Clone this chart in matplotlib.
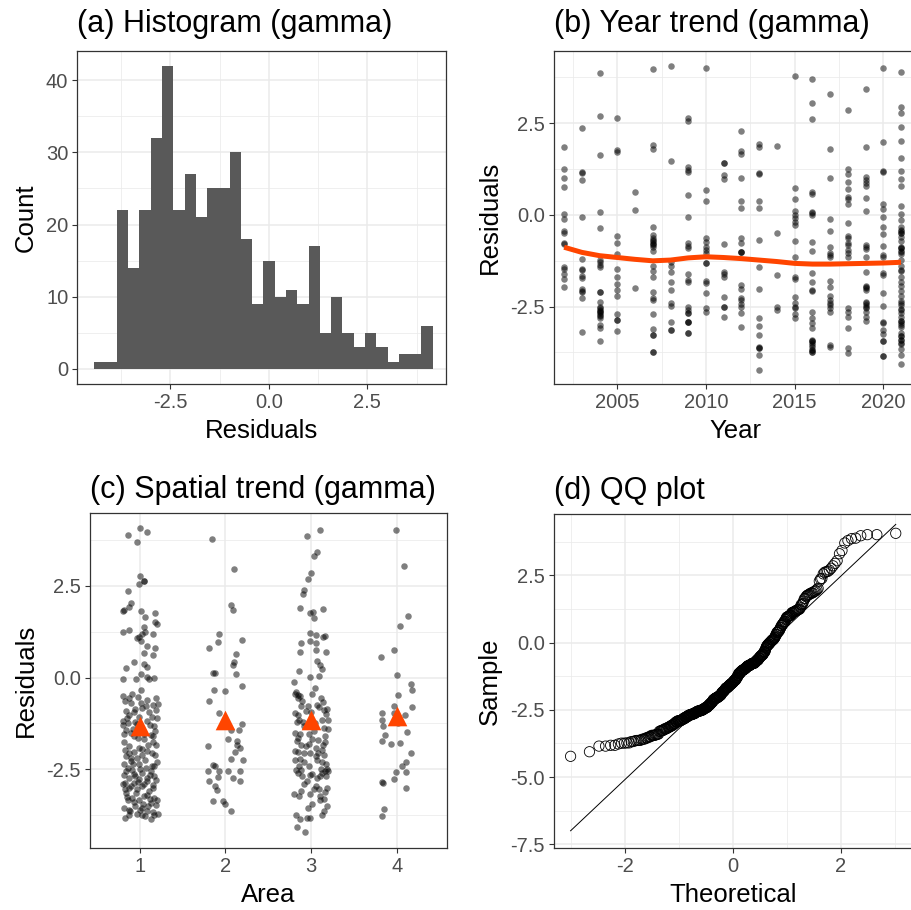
#Residual diagnostics: histogram, year trend, spatial trend, QQ plot
import matplotlib
matplotlib.use("Agg")
import matplotlib.pyplot as plt
import numpy as np
from statistics import NormalDist

plt.rcParams['font.family'] = ['Liberation Sans', 'DejaVu Sans']
plt.rcParams['axes.unicode_minus'] = False

#1. Histogram counts (30 bins)
hist_lo, hist_hi = -4.43, 4.16
hist_counts = [1, 1, 22, 14, 22, 32, 42, 22, 27, 21, 25, 25, 30, 18, 9,
               15, 10, 11, 9, 17, 5, 10, 5, 3, 5, 3, 1, 2, 2, 6]

#2. Residuals by year
years = list(range(2002, 2022))
r2002 = [1.85, 1.25, 1.0, 0.77, 0.04, -0.11, -0.45, -0.5, -0.77, -0.8, -1.41, -1.48, -1.61, -1.74, -1.96]
r2003 = [2.37, 1.16, 1.14, 0.95, -0.05, -1.21, -1.46, -1.5, -1.66, -1.73, -2.01, -2.08, -2.11, -2.27, -3.2]
r2004 = [3.87, 2.7, 1.63, 0.09, -0.36, -1.23, -1.29, -1.36, -1.43, -2.11, -2.11, -2.37, -2.5, -2.55,
         -2.58, -2.62, -2.65, -2.68, -2.72, -2.75, -2.82, -3.0, -3.09, -3.43]
r2005 = [2.65, 1.77, 1.71, -0.57, -0.77, -1.07, -1.47, -1.68, -1.88, -2.05, -2.2, -2.71, -2.86, -2.86, -3.17]
r2006 = [0.64, 0.14, -2.0]
r2007 = [3.98, 1.91, 1.79, -0.33, -0.55, -0.64, -0.68, -0.72, -0.77, -0.8, -0.83, -0.86, -0.97, -1.39,
         -1.52, -1.7, -2.11, -2.27, -2.32, -2.71, -3.12, -3.27, -3.27, -3.74, -3.74]
r2008 = [4.07, 1.46, -1.29, -1.39, -1.55, -1.84, -2.05, -2.41, -2.48, -2.91, -3.15, -3.15]
r2009 = [2.64, 2.56, 1.32, 1.23, 1.18, 0.55, -0.05, -0.77, -0.85, -0.91, -1.61, -1.77, -1.84, -2.52,
         -2.59, -2.68, -2.68, -2.91, -2.91, -2.91, -3.21, -3.21]
r2010 = [4.02, 0.68, 0.38, -0.64, -0.75, -0.86, -0.95, -1.03, -1.32, -1.32, -1.79, -1.86, -2.14, -2.55, -2.64]
r2011 = [1.41, 1.41, 1.09, 0.97, -0.79, -1.55, -1.61, -1.68, -2.23, -2.52, -2.52, -2.77]
r2012 = [2.29, 1.75, 1.65, 1.02, 0.38, 0.19, -0.64, -0.77, -1.0, -1.02, -1.02, -1.91, -2.02, -2.27,
         -2.32, -2.43, -2.5, -2.68, -3.05]
r2013 = [1.93, 1.85, 1.14, 1.12, 0.38, 0.2, -0.68, -1.41, -2.01, -2.82, -3.02, -3.27, -3.59, -3.64,
         -3.64, -3.82, -4.23]
r2014 = [1.89, -0.48, -1.64, -2.52, -2.59]
r2015 = [3.8, 0.73, 0.44, 0.11, 0.0, -0.09, -0.18, -0.27, -0.72, -1.14, -1.68, -1.74, -2.25, -2.41,
         -2.52, -2.55, -2.7, -2.82]
r2016 = [3.71, 3.05, 2.62, 0.63, 0.57, 0.09, 0.05, 0.0, -0.75, -0.99, -1.57, -1.82, -2.05, -2.06,
         -2.64, -2.82, -2.95, -3.09, -3.41, -3.45, -3.45, -3.5, -3.55, -3.6, -3.68, -3.68, -3.73, -3.73]
r2017 = [3.31, 1.8, 1.0, -0.1, -0.44, -0.86, -1.05, -1.09, -1.14, -1.8, -1.97, -2.2, -2.32, -2.41,
         -2.45, -2.55, -2.65, -3.55, -3.59]
r2018 = [2.86, 1.25, 1.12, 0.91, 0.7, 0.5, 0.43, 0.3, -0.21, -0.57, -0.64, -0.77, -0.82, -0.95,
         -1.03, -1.15, -2.55, -2.65, -2.77, -3.09, -3.64, -3.77]
r2019 = [3.43, 1.84, 1.03, 0.95, 0.86, 0.79, 0.45, 0.11, -0.82, -0.88, -0.94, -1.15, -1.55, -1.95,
         -1.97, -2.0, -2.05, -2.36, -2.41, -2.45, -2.5, -2.55, -2.65, -2.77, -2.88]
r2020 = [4.02, 1.98, 1.21, 1.18, 0.3, 0.15, -0.05, -0.34, -0.52, -0.85, -1.09, -1.14, -1.57, -1.64,
         -2.14, -2.47, -2.91, -2.95, -3.14, -3.25, -3.45, -3.45, -3.85, -3.85]
r2021 = [3.89, 2.95, 2.77, 2.39, 2.02, 1.54, 1.21, 0.97, 0.79, 0.25, 0.03, -0.14, -0.34, -0.41,
         -0.45, -0.48, -0.5, -0.59, -0.7, -0.86, -0.9, -0.91, -0.98, -1.0, -1.06, -1.23, -1.39, -1.5,
         -1.52, -1.68, -1.82, -1.94, -2.06, -2.21, -2.34, -2.4, -2.45, -2.57, -2.6, -2.68, -2.77, -2.88,
         -2.9, -2.95, -3.0, -3.05, -3.21, -3.3, -3.3, -3.41, -3.4, -3.5, -3.52, -3.65, -3.82, -4.06]
year_resid = [r2002, r2003, r2004, r2005, r2006, r2007, r2008, r2009, r2010, r2011,
              r2012, r2013, r2014, r2015, r2016, r2017, r2018, r2019, r2020, r2021]
# smoothed trend read per year
trend = [-0.88, -1.02, -1.11, -1.16, -1.21, -1.25, -1.23, -1.17, -1.14, -1.16,
         -1.19, -1.23, -1.27, -1.32, -1.34, -1.34, -1.33, -1.32, -1.31, -1.29]

#3. Residuals by area (jitter offset, residual)
area1 = [(0.0, 4.07), (0.09, 3.97), (-0.14, 3.88), (-0.03, 3.70), (0.0, 2.76), (0.05, 2.63), (0.05, 2.62),
         (-0.01, 2.55), (-0.14, 2.36), (-0.10, 2.02), (-0.13, 1.92), (-0.19, 1.81), (-0.18, 1.84), (0.02, 1.81),
         (0.18, 1.75), (0.06, 1.65), (0.20, 1.46), (0.18, 1.52), (0.05, 1.38), (-0.12, 1.29), (-0.19, 1.25),
         (0.06, 1.25), (0.03, 1.2), (0.15, 1.2), (-0.01, 1.11), (-0.03, 1.08), (0.01, 0.99), (0.09, 0.87),
         (0.18, 0.81), (0.05, 0.67), (0.15, 0.61), (-0.07, 0.43), (0.05, 0.37), (-0.16, 0.25), (0.09, 0.29),
         (0.02, 0.1), (0.09, 0.02), (0.17, -0.01), (0.11, -0.05), (-0.19, -0.05), (-0.04, -0.03),
         (0.02, -0.33), (-0.09, -0.45), (-0.19, -0.51), (-0.02, -0.54), (0.19, -0.57), (-0.17, -0.65),
         (-0.10, -0.69), (0.15, -0.74), (0.21, -0.72), (0.07, -0.78), (0.03, -0.83), (-0.16, -0.92),
         (-0.07, -0.95), (0.11, -0.95), (-0.12, -1.01), (-0.01, -1.07), (0.14, -1.07), (-0.19, -1.19),
         (0.09, -1.19), (-0.14, -1.25), (-0.03, -1.28), (0.17, -1.33), (-0.16, -1.42), (-0.10, -1.51),
         (0.05, -1.53), (-0.18, -1.55), (0.13, -1.58), (-0.07, -1.6), (0.05, -1.69), (0.15, -1.76),
         (0.19, -1.83), (-0.12, -1.87), (-0.01, -1.92), (-0.17, -1.98), (0.09, -2.01), (-0.07, -2.04),
         (0.14, -2.05), (0.03, -2.1), (-0.16, -2.15), (-0.03, -2.19), (-0.10, -2.28), (-0.18, -2.37),
         (-0.01, -2.35), (0.17, -2.42), (0.07, -2.46), (-0.14, -2.46), (-0.09, -2.51), (0.13, -2.55),
         (-0.18, -2.65), (0.03, -2.6), (-0.05, -2.69), (0.17, -2.69), (-0.13, -2.74), (-0.01, -2.78),
         (0.09, -2.83), (-0.17, -2.87), (-0.07, -2.89), (0.15, -2.92), (0.03, -2.95), (-0.12, -3.01),
         (-0.03, -3.05), (0.11, -3.1), (-0.16, -3.15), (0.05, -3.24), (-0.09, -3.28), (0.17, -3.28),
         (-0.01, -3.33), (-0.14, -3.35), (0.13, -3.42), (0.19, -3.49), (-0.05, -3.51), (0.03, -3.55),
         (-0.12, -3.6), (0.09, -3.65), (0.15, -3.67), (-0.03, -3.71), (0.21, -3.72), (-0.17, -3.83),
         (0.13, -3.85), (0.03, -3.74), (-0.12, -0.55), (0.08, -0.6), (-0.05, -0.85), (0.19, -0.88),
         (-0.15, -1.1), (0.12, -1.3), (-0.08, -1.4), (0.18, -1.45), (-0.02, -1.65), (-0.18, -1.75),
         (0.1, -1.85), (-0.1, -2.2), (0.06, -2.25), (0.2, -2.3), (-0.16, -2.55), (0.0, -2.5), (0.12, -2.65),
         (-0.07, -2.62), (0.19, -2.8), (-0.19, -2.9), (0.05, -2.9), (-0.1, -2.95), (0.16, -3.0),
         (-0.04, -3.15), (0.08, -3.2), (-0.15, -3.25), (0.2, -3.35), (-0.07, -3.4), (0.1, -3.5),
         (-0.18, -3.55), (0.0, -3.6), (0.17, -3.75), (-0.12, -3.75), (0.06, -3.78), (-0.08, -2.35),
         (0.14, -2.4), (-0.13, -2.05), (0.03, -1.95), (0.16, -1.6), (-0.06, -1.2), (0.01, -0.7),
         (-0.19, -1.3), (0.2, -1.1), (0.08, -2.75), (-0.02, -2.85), (0.12, -3.3), (-0.11, -3.65),
         (0.04, -3.45), (-0.17, -3.05), (0.18, -2.1)]
area2 = [(-0.16, 3.79), (0.10, 2.95), (0.07, 1.99), (0.09, 1.84), (-0.07, 1.2), (0.19, 1.02), (-0.09, 0.97),
         (-0.19, 0.81), (0.12, 0.65), (0.10, 0.42), (0.09, 0.35), (-0.14, 0.13), (-0.12, 0.13), (0.12, 0.1),
         (0.19, -0.22), (-0.13, -0.35), (-0.01, -0.37), (-0.19, -0.65), (-0.08, -0.96), (0.19, -1.26),
         (-0.01, -1.3), (0.06, -1.44), (0.16, -1.42), (0.03, -1.67), (0.14, -1.74), (0.14, -1.85),
         (-0.2, -1.87), (0.17, -1.92), (0.11, -2.04), (0.06, -2.21), (0.20, -2.25), (-0.15, -2.39),
         (-0.12, -2.42), (-0.2, -2.54), (-0.07, -2.54), (0.03, -2.54), (0.17, -2.54), (-0.09, -2.71),
         (0.09, -2.74), (-0.19, -2.81), (0.17, -2.81), (-0.12, -2.95), (-0.1, -3.08), (-0.14, -3.36),
         (-0.03, -3.36), (0.0, -3.44), (0.07, -3.63)]
area3 = [(-0.05, 3.87), (0.10, 4.01), (0.07, 3.42), (0.03, 3.31), (0.0, 2.85), (-0.04, 2.69), (-0.08, 2.38),
         (-0.1, 2.29), (-0.13, 1.9), (0.14, 1.88), (-0.02, 1.76), (0.02, 1.79), (0.03, 1.63), (-0.01, 1.22),
         (0.06, 1.15), (-0.12, 0.95), (-0.01, 0.99), (0.16, 1.13), (0.14, 1.1), (0.06, 0.95), (0.17, 0.7),
         (-0.13, 0.7), (0.05, 0.74), (0.07, 0.45), (0.10, 0.35), (0.12, 0.22), (-0.14, 0.19), (0.09, 0.04),
         (-0.02, 0.01), (0.04, -0.28), (-0.2, -0.12), (0.01, -0.45), (-0.19, -0.46), (-0.16, -0.49),
         (-0.13, -0.51), (0.14, -0.67), (-0.12, -0.78), (-0.04, -0.78), (0.07, -0.76), (0.18, -0.87),
         (0.15, -0.89), (-0.19, -0.96), (-0.16, -1.03), (-0.14, -1.15), (0.12, -1.15), (0.19, -1.17),
         (-0.09, -1.33), (0.15, -1.37), (-0.19, -1.51), (-0.13, -1.55), (-0.03, -1.55), (0.16, -1.6),
         (0.01, -1.67), (-0.17, -1.74), (-0.12, -1.83), (-0.06, -1.87), (0.06, -1.92), (0.12, -1.98),
         (-0.16, -2.04), (-0.08, -2.05), (-0.01, -2.07), (0.15, -2.1), (-0.13, -2.22), (0.07, -2.24),
         (-0.19, -2.26), (0.17, -2.35), (-0.03, -2.42), (0.11, -2.49), (0.18, -2.49), (-0.12, -2.51),
         (0.16, -2.55), (0.01, -2.62), (-0.18, -2.51), (-0.11, -2.69), (0.07, -2.74), (0.10, -2.69),
         (0.17, -2.69), (-0.05, -2.83), (0.03, -3.05), (0.09, -3.04), (0.16, -3.13), (-0.2, -3.19),
         (-0.14, -3.22), (-0.01, -3.19), (0.10, -3.24), (0.01, -3.44), (0.18, -3.51), (0.15, -3.65),
         (0.12, -3.74), (-0.18, -3.74), (-0.13, -3.85), (-0.05, -3.83), (-0.17, -4.07), (-0.07, -4.22),
         (-0.02, -3.83), (-0.18, -0.4), (-0.15, -0.55), (0.09, -0.8), (-0.06, -0.9), (0.17, -1.0),
         (-0.1, -1.2), (0.04, -1.25), (0.19, -1.4), (-0.16, -1.65), (0.08, -1.7), (-0.03, -1.8),
         (0.14, -1.85), (-0.19, -2.0), (0.05, -2.15), (-0.09, -2.3), (0.12, -2.3), (0.19, -2.55),
         (-0.15, -2.6), (-0.02, -2.65), (0.13, -2.6), (-0.08, -2.9), (0.06, -2.95), (0.18, -3.0),
         (-0.12, -3.1), (0.1, -3.35), (-0.04, -3.55), (0.15, -3.3), (-0.17, -1.2), (0.16, -1.75),
         (0.0, -0.95), (-0.11, -0.65), (0.11, -0.55), (0.03, -1.45), (-0.14, -2.4), (0.08, -2.05)]
area4 = [(-0.01, 4.01), (0.08, 3.04), (0.13, 1.69), (0.04, 1.4), (-0.03, 0.76), (-0.19, 0.56), (0.0, 0.08),
         (0.16, -0.19), (0.17, -0.33), (0.01, -0.49), (-0.04, -0.78), (0.18, -0.81), (-0.17, -0.98),
         (0.09, -1.03), (-0.18, -1.17), (0.01, -1.24), (-0.16, -1.33), (0.12, -1.48), (-0.14, -1.58),
         (-0.17, -1.74), (-0.07, -1.81), (0.03, -1.78), (0.16, -2.05), (0.11, -2.31), (0.06, -2.42),
         (-0.01, -2.57), (0.10, -2.57), (-0.04, -2.76), (-0.17, -2.85), (-0.16, -2.89), (0.11, -3.01),
         (-0.15, -3.58), (-0.17, -3.78), (0.01, -1.13), (-0.03, -0.96)]
areas = [1, 2, 3, 4]
area_pts = [area1, area2, area3, area4]
area_means = [-1.32, -1.15, -1.17, -1.06]

RED = '#FF4500'
GRID = '#EBEBEB'

def theme_bw(ax, xmaj, xmin, ymaj, ymin, xlab, ylab):
    ax.set_xticks(xmaj)
    ax.set_xticks(xmin, minor=True)
    ax.set_yticks(ymaj)
    ax.set_yticks(ymin, minor=True)
    ax.grid(which='major', color=GRID, lw=1.1)
    ax.grid(which='minor', color=GRID, lw=0.55)
    ax.set_axisbelow(True)
    ax.tick_params(which='minor', length=0)
    ax.tick_params(which='major', length=3.5, width=0.8, color='#333333',
                   labelcolor='#4D4D4D', labelsize=14.5, pad=3)
    for s in ax.spines.values():
        s.set_color('#333333')
        s.set_linewidth(0.9)
    ax.set_xlabel(xlab, fontsize=18.5, labelpad=5)
    ax.set_ylabel(ylab, fontsize=18.5, labelpad=6)

fig = plt.figure(figsize=(9.12, 9.10), dpi=100)
ax_a = fig.add_axes([0.0848, 0.578, 0.4043, 0.3663])
ax_b = fig.add_axes([0.6071, 0.578, 0.3993, 0.3663])
ax_c = fig.add_axes([0.0987, 0.0685, 0.3911, 0.3675])
ax_d = fig.add_axes([0.6071, 0.0685, 0.3942, 0.3664])

#(a) histogram
edges = np.linspace(hist_lo, hist_hi, len(hist_counts) + 1)
ax_a.stairs(hist_counts, edges, fill=True, color='#595959')
ax_a.set_xlim(-4.86, 4.50)
ax_a.set_ylim(-2.1, 44.1)
theme_bw(ax_a, [-2.5, 0, 2.5], [-3.75, -1.25, 1.25, 3.75], [0, 10, 20, 30, 40], [5, 15, 25, 35],
         'Residuals', 'Count')
ax_a.set_xticklabels(['-2.5', '0.0', '2.5'])
ax_a.set_title('(a) Histogram (gamma)', loc='left', fontsize=22, pad=13.7)

#(b) year trend
for yr, vals in zip(years, year_resid):
    ax_b.scatter([yr] * len(vals), vals, s=22, color='black', alpha=0.5, linewidths=0)
ax_b.plot(years, trend, color=RED, lw=3.6, solid_capstyle='butt')
ax_b.set_xlim(2001.41, 2021.95)
ax_b.set_ylim(-4.61, 4.48)
theme_bw(ax_b, [2005, 2010, 2015, 2020], [2002.5, 2007.5, 2012.5, 2017.5],
         [-2.5, 0, 2.5], [-3.75, -1.25, 1.25, 3.75], 'Year', 'Residuals')
ax_b.set_yticklabels(['-2.5', '0.0', '2.5'])
ax_b.set_title('(b) Year trend (gamma)', loc='left', fontsize=22, pad=13.7)

#(c) spatial trend
for a, pts in zip(areas, area_pts):
    offs = np.array([p[0] for p in pts])
    vals = [p[1] for p in pts]
    ax_c.scatter(a + offs, vals, s=22, color='black', alpha=0.5, linewidths=0)
ax_c.scatter(areas, area_means, marker='^', s=200, color=RED, linewidths=0, zorder=3)
ax_c.set_xlim(0.42, 4.58)
ax_c.set_ylim(-4.64, 4.48)
theme_bw(ax_c, areas, [], [-2.5, 0, 2.5], [-3.75, -1.25, 1.25, 3.75], 'Area', 'Residuals')
ax_c.set_xticklabels([str(a) for a in areas])
ax_c.set_yticklabels(['-2.5', '0.0', '2.5'])
ax_c.set_title('(c) Spatial trend (gamma)', loc='left', fontsize=22, pad=11)

#(d) QQ plot
sample = np.sort(np.concatenate([np.array(v) for v in year_resid]))
n = len(sample)
nd = NormalDist()
theo = np.array([nd.inv_cdf((i - 0.5) / n) for i in range(1, n + 1)])
q1, q3 = np.quantile(sample, [0.25, 0.75])
z1, z3 = nd.inv_cdf(0.25), nd.inv_cdf(0.75)
slope = (q3 - q1) / (z3 - z1)
icpt = q1 - slope * z1
ax_d.plot([theo[0], theo[-1]], [icpt + slope * theo[0], icpt + slope * theo[-1]], color='black', lw=0.7)
ax_d.scatter(theo, sample, s=55, facecolors='none', edgecolors='black', linewidths=0.6)
ax_d.set_xlim(-3.33, 3.34)
ax_d.set_ylim(-7.63, 4.78)
theme_bw(ax_d, [-2, 0, 2], [-3, -1, 1, 3], [-7.5, -5, -2.5, 0, 2.5], [-6.25, -3.75, -1.25, 1.25, 3.75],
         'Theoretical', 'Sample')
ax_d.set_xticklabels(['-2', '0', '2'])
ax_d.set_yticklabels(['-7.5', '-5.0', '-2.5', '0.0', '2.5'])
ax_d.set_title('(d) QQ plot', loc='left', fontsize=22, pad=11)

fig.savefig('out.png', dpi=100)
